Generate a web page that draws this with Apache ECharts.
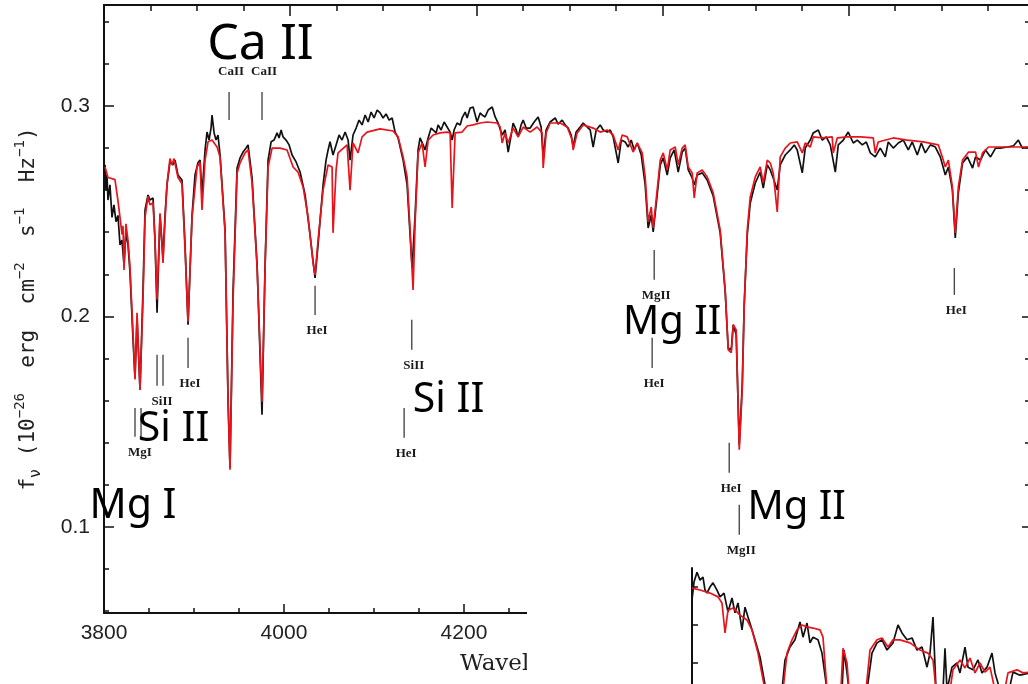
<!DOCTYPE html>
<html>
<head>
<meta charset="utf-8">
<script src="https://cdn.jsdelivr.net/npm/echarts@6/dist/echarts.min.js"></script>
<style>
html,body{margin:0;padding:0;background:#fff}
#chart{width:1028px;height:684px}
</style>
</head>
<body>
<div id="chart"></div>
<script>
// Observed spectrum: [wavelength (Å), f_nu (1e-26 erg cm^-2 s^-1 Hz^-1)]
const observed = [
[3801.1,0.2720],[3802.1,0.2601],[3803.2,0.2672],[3804.3,0.2553],[3806.4,0.2625],[3808.6,0.2470],[3810.7,0.2530],[3812.9,0.2450],[3815.0,0.2480],[3817.2,0.2340],[3819.3,0.2363],[3821.5,0.2245],[3823.6,0.2400],[3825.8,0.2340],[3827.9,0.2211],[3831.2,0.1888],[3833.3,0.1708],[3835.5,0.1993],[3838.7,0.1651],[3841.9,0.2126],[3844.1,0.2506],[3847.3,0.2577],[3849.4,0.2553],[3852.7,0.2563],[3854.8,0.2363],[3857.0,0.2017],[3860.2,0.2482],[3863.4,0.2278],[3865.6,0.2482],[3867.7,0.2625],[3870.9,0.2734],[3874.2,0.2720],[3876.3,0.2743],[3879.5,0.2672],[3883.8,0.2648],[3887.1,0.2340],[3890.3,0.1960],[3894.6,0.2480],[3897.8,0.2672],[3901.0,0.2730],[3903.2,0.2743],[3905.3,0.2577],[3908.6,0.2791],[3910.7,0.2876],[3912.9,0.2838],[3915.0,0.2895],[3916.1,0.2957],[3918.3,0.2872],[3920.4,0.2838],[3922.5,0.2862],[3924.7,0.2767],[3930.1,0.2411],[3933.3,0.1600],[3935.4,0.1280],[3938.7,0.2126],[3943.0,0.2705],[3946.2,0.2753],[3949.4,0.2781],[3952.7,0.2800],[3954.8,0.2815],[3959.1,0.2658],[3964.5,0.2245],[3969.8,0.1532],[3973.1,0.2245],[3976.3,0.2743],[3979.6,0.2830],[3982.7,0.2838],[3986.0,0.2872],[3988.1,0.2848],[3990.3,0.2886],[3992.4,0.2853],[3995.6,0.2838],[3998.9,0.2815],[4002.1,0.2767],[4006.4,0.2734],[4010.7,0.2686],[4016.1,0.2577],[4021.4,0.2387],[4024.7,0.2259],[4026.8,0.2183],[4030.0,0.2340],[4035.4,0.2625],[4038.6,0.2743],[4040.8,0.2791],[4042.9,0.2830],[4046.1,0.2767],[4049.4,0.2815],[4052.6,0.2862],[4055.8,0.2838],[4059.1,0.2876],[4062.3,0.2838],[4064.4,0.2743],[4067.6,0.2862],[4070.9,0.2895],[4074.1,0.2933],[4077.3,0.2910],[4080.6,0.2957],[4083.8,0.2924],[4087.0,0.2971],[4090.2,0.2943],[4093.5,0.2981],[4096.7,0.2967],[4099.9,0.2943],[4103.1,0.2962],[4106.4,0.2933],[4109.6,0.2943],[4112.8,0.2876],[4116.0,0.2848],[4121.4,0.2743],[4125.7,0.2625],[4128.9,0.2387],[4131.1,0.2230],[4134.3,0.2482],[4137.5,0.2791],[4139.6,0.2848],[4142.9,0.2815],[4145.0,0.2791],[4148.3,0.2848],[4151.5,0.2895],[4153.6,0.2900],[4156.9,0.2872],[4159.0,0.2910],[4162.2,0.2886],[4165.5,0.2924],[4168.7,0.2900],[4171.9,0.2876],[4174.1,0.2838],[4176.2,0.2886],[4179.4,0.2919],[4182.7,0.2910],[4184.8,0.2943],[4188.1,0.2971],[4190.2,0.2943],[4193.4,0.2990],[4196.6,0.2995],[4200.9,0.2924],[4204.2,0.2967],[4206.3,0.2957],[4209.5,0.2948],[4212.8,0.2981],[4217.1,0.2995],[4220.3,0.2948],[4223.5,0.2919],[4227.8,0.2862],[4231.0,0.2886],[4234.3,0.2781],[4237.5,0.2862],[4239.6,0.2919],[4242.9,0.2886],[4245.0,0.2853],[4248.2,0.2910],[4250.4,0.2933],[4253.6,0.2895],[4257.9,0.2895],[4262.2,0.2924],[4266.5,0.2948],[4269.7,0.2900],[4271.9,0.2758],[4275.1,0.2886],[4279.4,0.2924],[4284.8,0.2943],[4288.0,0.2914],[4292.3,0.2933],[4295.5,0.2910],[4298.8,0.2895],[4302.0,0.2862],[4304.1,0.2805],[4307.3,0.2876],[4311.6,0.2900],[4314.9,0.2919],[4319.2,0.2900],[4322.4,0.2886],[4325.6,0.2805],[4328.9,0.2886],[4333.2,0.2910],[4336.4,0.2886],[4340.7,0.2876],[4344.0,0.2886],[4347.1,0.2853],[4352.5,0.2729],[4355.8,0.2838],[4360.0,0.2829],[4363.2,0.2805],[4366.5,0.2838],[4369.7,0.2791],[4373.0,0.2824],[4377.3,0.2767],[4381.5,0.2625],[4384.7,0.2420],[4388.0,0.2482],[4390.1,0.2401],[4394.4,0.2577],[4397.7,0.2720],[4400.9,0.2753],[4405.2,0.2672],[4408.4,0.2753],[4412.7,0.2791],[4417.0,0.2686],[4421.3,0.2781],[4424.5,0.2800],[4427.8,0.2696],[4432.0,0.2658],[4434.2,0.2625],[4437.4,0.2672],[4442.8,0.2682],[4448.1,0.2648],[4454.6,0.2572],[4462.1,0.2397],[4467.5,0.2116],[4470.7,0.1850],[4474.0,0.1841],[4476.1,0.1960],[4479.3,0.1912],[4482.6,0.1390],[4485.8,0.1675],[4487.9,0.2055],[4491.2,0.2387],[4494.4,0.2539],[4499.8,0.2634],[4505.1,0.2686],[4508.4,0.2610],[4512.7,0.2720],[4515.9,0.2696],[4519.1,0.2658],[4523.4,0.2601],[4526.6,0.2720],[4532.0,0.2767],[4537.4,0.2791],[4541.7,0.2815],[4544.9,0.2791],[4550.3,0.2682],[4553.5,0.2800],[4558.9,0.2838],[4562.1,0.2872],[4567.5,0.2886],[4571.8,0.2838],[4576.1,0.2853],[4580.4,0.2815],[4585.8,0.2686],[4589.0,0.2815],[4594.4,0.2838],[4599.7,0.2876],[4605.1,0.2824],[4609.4,0.2838],[4614.8,0.2815],[4619.1,0.2829],[4623.4,0.2777],[4628.7,0.2758],[4634.1,0.2800],[4639.5,0.2758],[4642.7,0.2829],[4648.1,0.2800],[4653.5,0.2824],[4658.9,0.2838],[4664.2,0.2791],[4668.5,0.2829],[4673.9,0.2767],[4678.2,0.2824],[4682.5,0.2777],[4687.9,0.2815],[4693.3,0.2805],[4698.6,0.2758],[4704.0,0.2672],[4707.3,0.2710],[4711.6,0.2601],[4714.7,0.2373],[4718.0,0.2587],[4722.5,0.2729],[4727.8,0.2758],[4733.3,0.2705],[4736.5,0.2758],[4741.8,0.2743],[4747.2,0.2791],[4752.6,0.2758],[4758.0,0.2800],[4763.1,0.2800],[4770.8,0.2805],[4777.1,0.2810],[4782.5,0.2838],[4786.8,0.2800],[4795.0,0.2805]
];

// Model spectrum: [wavelength (Å), f_nu]
const model = [
[3801.1,0.2710],[3804.3,0.2660],[3811.8,0.2650],[3815.0,0.2550],[3818.3,0.2430],[3819.3,0.2390],[3820.4,0.2430],[3821.5,0.2220],[3823.6,0.2440],[3825.8,0.2360],[3827.9,0.2235],[3831.2,0.1920],[3833.3,0.1700],[3835.5,0.2017],[3838.7,0.1650],[3841.9,0.2080],[3844.1,0.2470],[3847.3,0.2570],[3849.4,0.2530],[3852.7,0.2540],[3854.8,0.2360],[3857.0,0.2080],[3860.2,0.2490],[3863.4,0.2254],[3865.6,0.2458],[3867.7,0.2630],[3870.9,0.2750],[3873.1,0.2720],[3875.2,0.2750],[3879.5,0.2660],[3883.8,0.2630],[3887.1,0.2316],[3890.3,0.1974],[3894.6,0.2470],[3900.0,0.2710],[3903.2,0.2734],[3905.3,0.2506],[3908.6,0.2743],[3911.8,0.2830],[3916.1,0.2838],[3921.5,0.2805],[3924.7,0.2758],[3930.1,0.2397],[3933.3,0.1600],[3935.4,0.1271],[3938.7,0.2078],[3943.0,0.2680],[3946.2,0.2730],[3951.6,0.2777],[3954.8,0.2791],[3959.1,0.2634],[3964.5,0.2235],[3969.8,0.1594],[3973.1,0.2235],[3976.3,0.2710],[3980.6,0.2800],[3989.2,0.2800],[3996.7,0.2791],[4003.2,0.2710],[4008.5,0.2686],[4013.9,0.2615],[4019.3,0.2473],[4024.7,0.2254],[4026.8,0.2197],[4030.0,0.2363],[4035.4,0.2600],[4040.8,0.2720],[4045.1,0.2710],[4046.1,0.2397],[4049.4,0.2696],[4051.5,0.2777],[4061.2,0.2815],[4064.4,0.2600],[4067.6,0.2824],[4073.0,0.2777],[4077.3,0.2853],[4082.7,0.2876],[4096.7,0.2891],[4110.6,0.2881],[4116.0,0.2853],[4121.4,0.2758],[4125.7,0.2663],[4128.9,0.2411],[4132.1,0.2126],[4134.3,0.2444],[4137.5,0.2777],[4141.8,0.2824],[4145.0,0.2710],[4148.3,0.2838],[4153.6,0.2862],[4161.2,0.2872],[4168.7,0.2876],[4171.9,0.2872],[4174.1,0.2515],[4177.3,0.2872],[4184.8,0.2876],[4190.2,0.2905],[4196.6,0.2910],[4204.2,0.2919],[4211.7,0.2924],[4222.4,0.2919],[4225.7,0.2900],[4227.8,0.2824],[4231.0,0.2872],[4234.3,0.2824],[4239.6,0.2895],[4245.0,0.2853],[4250.4,0.2900],[4257.9,0.2876],[4265.4,0.2900],[4270.8,0.2872],[4271.9,0.2705],[4275.1,0.2872],[4279.4,0.2919],[4290.2,0.2919],[4297.7,0.2900],[4303.1,0.2838],[4304.1,0.2791],[4308.4,0.2872],[4314.9,0.2910],[4325.6,0.2895],[4333.2,0.2876],[4340.7,0.2886],[4347.1,0.2862],[4352.5,0.2791],[4356.8,0.2862],[4362.2,0.2853],[4368.6,0.2781],[4373.0,0.2824],[4378.3,0.2777],[4381.5,0.2663],[4384.7,0.2449],[4388.0,0.2520],[4390.1,0.2420],[4394.4,0.2600],[4397.7,0.2743],[4400.9,0.2777],[4405.2,0.2696],[4408.4,0.2791],[4413.8,0.2805],[4417.0,0.2720],[4421.3,0.2800],[4424.5,0.2815],[4427.8,0.2710],[4432.0,0.2682],[4434.2,0.2563],[4437.4,0.2682],[4442.8,0.2696],[4448.1,0.2663],[4454.6,0.2587],[4462.1,0.2411],[4467.5,0.2126],[4470.7,0.1841],[4474.0,0.1827],[4476.1,0.1960],[4479.3,0.1936],[4482.6,0.1366],[4485.8,0.1651],[4487.9,0.2045],[4491.2,0.2411],[4494.4,0.2568],[4499.8,0.2663],[4505.1,0.2710],[4508.4,0.2634],[4512.7,0.2743],[4515.9,0.2729],[4519.1,0.2682],[4523.4,0.2496],[4526.6,0.2758],[4532.0,0.2800],[4537.4,0.2824],[4544.9,0.2829],[4550.3,0.2777],[4553.5,0.2824],[4558.9,0.2805],[4562.1,0.2853],[4571.8,0.2848],[4582.5,0.2853],[4583.6,0.2777],[4587.9,0.2848],[4598.6,0.2853],[4612.6,0.2853],[4626.6,0.2848],[4628.7,0.2777],[4631.9,0.2829],[4648.1,0.2848],[4663.1,0.2838],[4680.3,0.2829],[4696.5,0.2815],[4700.8,0.2758],[4704.0,0.2710],[4707.3,0.2743],[4711.6,0.2615],[4714.7,0.2397],[4718.0,0.2615],[4722.5,0.2743],[4729.0,0.2781],[4736.5,0.2781],[4739.7,0.2710],[4744.0,0.2777],[4750.4,0.2805],[4770.8,0.2805],[4795.0,0.2805]
];

// Line identifications: label, wavelength(s) of the tick bars, bar top/bottom flux, label above the bar?
const idLabels = ['CaII', 'CaII', 'MgI', 'SiII', 'HeI', 'HeI', 'SiII', 'HeI', 'MgII', 'HeI', 'HeI', 'MgII', 'HeI'];
const idWaves = [[3934.4], [3969.8], [3833.3, 3839.8], [3857.0, 3863.4], [3890.3], [4026.8], [4130.7], [4122.5], [4391.2], [4389.0], [4471.8], [4482.6], [4713.7]];
const idBarTop = [0.3067, 0.3067, 0.1565, 0.1817, 0.1898, 0.2145, 0.1984, 0.1565, 0.2316, 0.1898, 0.1399, 0.1105, 0.2230];
const idBarBottom = [0.2933, 0.2933, 0.1428, 0.1670, 0.1755, 0.2007, 0.1841, 0.1423, 0.2174, 0.1755, 0.1257, 0.0962, 0.2102];
const idAbove = [true, true, false, false, false, false, false, false, false, false, false, false, false];

// Large ion annotations
const noteText = ['Ca II', 'Si II', 'Mg I', 'Si II', 'Mg II', 'Mg II'];
const noteWave = [3968.2, 3874.7, 3831.2, 4170.3, 4410.5, 4544.3];
const noteFlux = [0.3290, 0.1461, 0.1095, 0.1603, 0.1969, 0.1090];
const noteSize = [50, 41, 41, 41, 40, 40];

// Axis ticks
const xMajorTicks = 200;
const yLabelTicks = [0.1, 0.2, 0.3];
const yMinorTicks = [0.06, 0.08, 0.12, 0.14, 0.16, 0.18, 0.22, 0.24, 0.26, 0.28, 0.32, 0.34];

// Lower panel (partly visible): [position, relative flux]
const lowerObserved = [
[0,0.916],[0.6,0.963],[1.5,0.989],[2.4,0.968],[3.3,0.976],[3.9,0.942],[4.5,0.934],[5.4,0.950],[6.3,0.961],[7.5,0.942],[8.4,0.924],[9.6,0.934],[10.8,0.884],[12.0,0.921],[12.9,0.882],[13.8,0.908],[15.0,0.837],[15.9,0.897],[16.8,0.871],[18.3,0.829],[20.4,0.766],[22.2,0.679],[24.6,0.640],[27.0,0.679],[27.9,0.758],[29.4,0.792],[30.9,0.811],[32.4,0.858],[33.3,0.818],[34.5,0.855],[35.4,0.803],[36.3,0.818],[37.8,0.811],[39.0,0.776],[40.5,0.679],[42.9,0.653],[45.0,0.679],[45.6,0.784],[46.5,0.724],[47.1,0.679],[49.8,0.640],[52.5,0.679],[54.0,0.776],[55.5,0.803],[57.0,0.811],[58.5,0.784],[60.3,0.803],[61.8,0.850],[63.0,0.829],[64.5,0.811],[66.0,0.816],[67.5,0.784],[69.0,0.792],[70.5,0.739],[71.4,0.776],[72.3,0.871],[73.2,0.679],[74.4,0.653],[75.3,0.679],[75.9,0.789],[76.5,0.679],[78.0,0.739],[79.5,0.750],[80.4,0.724],[81.9,0.792],[82.8,0.739],[84.3,0.732],[85.8,0.758],[87.0,0.724],[88.5,0.739],[90.0,0.776],[90.9,0.724],[92.4,0.679],[94.8,0.666],[96.3,0.726],[98.4,0.718],[101.4,0.724]
];
const lowerModel = [
[0,0.947],[2.4,0.942],[5.4,0.934],[7.8,0.924],[9.0,0.908],[9.9,0.829],[10.8,0.889],[12.3,0.895],[14.4,0.876],[16.5,0.863],[18.0,0.837],[19.8,0.776],[21.9,0.679],[24.6,0.640],[27.3,0.679],[28.5,0.776],[30.0,0.811],[31.5,0.837],[33.0,0.850],[34.5,0.845],[36.3,0.842],[38.4,0.837],[39.3,0.818],[40.5,0.679],[42.9,0.653],[44.7,0.684],[45.3,0.789],[46.5,0.750],[47.1,0.679],[49.8,0.640],[52.2,0.679],[53.4,0.784],[55.5,0.811],[57.0,0.816],[58.8,0.792],[60.3,0.811],[62.4,0.811],[65.4,0.803],[68.4,0.784],[70.8,0.776],[72.3,0.758],[73.2,0.679],[75.3,0.653],[77.4,0.679],[78.3,0.732],[80.4,0.758],[81.9,0.737],[83.4,0.763],[84.9,0.724],[86.4,0.750],[87.9,0.726],[89.4,0.739],[90.9,0.679],[92.4,0.666],[93.9,0.684],[94.8,0.724],[97.5,0.732],[99.3,0.724],[101.4,0.726]
];
const lowerTicks = [0.65, 0.75, 0.85, 0.95];

const chart = echarts.init(document.getElementById('chart'), null, { renderer: 'canvas' });

const axisBlack = { show: true, lineStyle: { color: '#111', width: 2 } };
const Y_MIN = 0.059, Y_MAX = 0.348;

function idBars(params, api) {
  const i = params.dataIndex;
  const waves = idWaves[i];
  const children = [];
  const xs = [];
  waves.forEach(function (w) {
    const p1 = api.coord([w, idBarTop[i]]);
    const p2 = api.coord([w, idBarBottom[i]]);
    xs.push(p1[0]);
    children.push({
      type: 'line',
      shape: { x1: p1[0], y1: p1[1], x2: p2[0], y2: p2[1] },
      style: { stroke: '#4a4a4a', lineWidth: 1.4 }
    });
  });
  const cx = (xs[0] + xs[xs.length - 1]) / 2 + 2;
  const ty = idAbove[i]
    ? api.coord([waves[0], idBarTop[i]])[1] - 20
    : api.coord([waves[0], idBarBottom[i]])[1] + 16;
  children.push({
    type: 'text',
    style: {
      x: cx, y: ty, text: idLabels[i],
      font: 'bold 13px "Liberation Serif"',
      fill: '#1a1a1a', align: 'center', verticalAlign: 'middle'
    }
  });
  return { type: 'group', children: children };
}

const option = {
  animation: false,
  backgroundColor: '#fff',
  textStyle: { fontFamily: 'Liberation Sans' },
  grid: [
    { left: 104, top: 5, width: 926, height: 608, containLabel: false, outerBoundsMode: 'none' },
    { left: 692, top: 568, width: 340, height: 152, containLabel: false, outerBoundsMode: 'none' }
  ],
  xAxis: [
    { // labelled wavelength axis along the bottom
      type: 'value', gridIndex: 0, position: 'bottom',
      min: 3800, max: 4829, interval: xMajorTicks,
      axisLine: axisBlack,
      axisTick: { inside: true, length: 9, lineStyle: { color: '#111', width: 1.5 } },
      minorTick: { show: true, splitNumber: 4, length: 5, lineStyle: { color: '#111', width: 1.5 } },
      axisLabel: {
        fontSize: 21, color: '#222', margin: 10, fontFamily: 'Liberation Sans',
        formatter: function (v) { return String(v); }
      },
      splitLine: { show: false }
    },
    { // wavelength axis carrying the spectra, ticks along the top frame
      type: 'value', gridIndex: 0, position: 'top',
      min: 3800, max: 4795, interval: xMajorTicks,
      axisLine: axisBlack,
      axisTick: { inside: true, length: 11, lineStyle: { color: '#111', width: 1.5 } },
      minorTick: { show: true, splitNumber: 4, length: 6, lineStyle: { color: '#111', width: 1.5 } },
      axisLabel: { show: false },
      splitLine: { show: false }
    },
    {
      type: 'value', gridIndex: 1, min: 0, max: 102, show: false
    }
  ],
  yAxis: [
    {
      type: 'value', gridIndex: 0, position: 'left', min: Y_MIN, max: Y_MAX,
      axisLine: axisBlack,
      axisTick: { inside: true, length: 10, customValues: yLabelTicks, lineStyle: { color: '#111', width: 1.5 } },
      axisLabel: {
        customValues: yLabelTicks, fontSize: 21, color: '#222', margin: 14,
        formatter: function (v) { return v.toFixed(1); }
      },
      splitLine: { show: false },
      name: '{t|f}{sub|ν}{t| (10}{sup|−26}{t|  erg  cm}{sup|−2}{t|  s}{sup|−1}{t|  Hz}{sup|−1}{t|)}',
      nameLocation: 'middle', nameRotate: 90, nameGap: 60,
      nameTextStyle: {
        color: '#222',
        rich: {
          t: { fontFamily: 'DejaVu Sans Mono', fontSize: 21, color: '#222', lineHeight: 31, verticalAlign: 'middle' },
          sub: { fontFamily: 'DejaVu Sans Mono', fontSize: 15, color: '#222', lineHeight: 31, verticalAlign: 'bottom' },
          sup: { fontFamily: 'DejaVu Sans Mono', fontSize: 14, color: '#222', lineHeight: 31, verticalAlign: 'top' }
        }
      }
    },
    {
      type: 'value', gridIndex: 0, position: 'left', min: Y_MIN, max: Y_MAX,
      axisLine: { show: false },
      axisTick: { inside: true, length: 5, customValues: yMinorTicks, lineStyle: { color: '#111', width: 1.5 } },
      axisLabel: { show: false }, splitLine: { show: false }
    },
    {
      type: 'value', gridIndex: 0, position: 'right', min: Y_MIN, max: Y_MAX,
      axisLine: { show: false },
      axisTick: { inside: true, length: 8, customValues: yLabelTicks, lineStyle: { color: '#111', width: 1.5 } },
      axisLabel: { show: false }, splitLine: { show: false }
    },
    {
      type: 'value', gridIndex: 0, position: 'right', min: Y_MIN, max: Y_MAX,
      axisLine: { show: false },
      axisTick: { inside: true, length: 5, customValues: yMinorTicks, lineStyle: { color: '#111', width: 1.5 } },
      axisLabel: { show: false }, splitLine: { show: false }
    },
    {
      type: 'value', gridIndex: 1, position: 'left', min: 0.6, max: 1.0, z: 110,
      axisLine: { show: true, lineStyle: { color: '#111', width: 2 } },
      axisTick: { inside: true, length: 6, customValues: lowerTicks, lineStyle: { color: '#111', width: 1.5 } },
      axisLabel: { show: false }, splitLine: { show: false }
    }
  ],
  graphic: [
    {
      type: 'text', left: 460, top: 653, z: 5,
      style: { text: 'Wavelength (Å)', font: '23px "DejaVu Serif"', fill: '#222' }
    },
    {
      type: 'rect', z: 100,
      shape: { x: 527, y: 563, width: 501, height: 121 },
      style: { fill: '#fff' }
    }
  ],
  series: [
    {
      name: 'observed', type: 'line', xAxisIndex: 1, yAxisIndex: 0,
      data: observed, showSymbol: false, symbol: 'none',
      lineStyle: { color: '#111', width: 1.7 }, z: 3
    },
    {
      name: 'model', type: 'line', xAxisIndex: 1, yAxisIndex: 0,
      data: model, showSymbol: false, symbol: 'none',
      lineStyle: { color: '#e8141c', width: 1.7 }, z: 4
    },
    {
      name: 'line ids', type: 'custom', xAxisIndex: 1, yAxisIndex: 0,
      data: idWaves.map(function (w, i) { return [w[0], idBarTop[i]]; }),
      renderItem: idBars, clip: false, silent: true, z: 5
    },
    {
      name: 'ions', type: 'scatter', xAxisIndex: 1, yAxisIndex: 0,
      symbolSize: 0, silent: true, z: 6,
      itemStyle: { opacity: 1 },
      data: noteText.map(function (t, i) {
        return {
          value: [noteWave[i], noteFlux[i]], name: t,
          label: { fontSize: noteSize[i] }
        };
      }),
      label: {
        show: true, position: 'inside', formatter: '{b}', opacity: 1,
        fontFamily: 'Noto Sans', color: '#000', align: 'center', verticalAlign: 'middle'
      }
    },
    {
      name: 'lower observed', type: 'line', xAxisIndex: 2, yAxisIndex: 4,
      data: lowerObserved, showSymbol: false, symbol: 'none',
      lineStyle: { color: '#111', width: 1.7 }, z: 120
    },
    {
      name: 'lower model', type: 'line', xAxisIndex: 2, yAxisIndex: 4,
      data: lowerModel, showSymbol: false, symbol: 'none',
      lineStyle: { color: '#e8141c', width: 1.7 }, z: 121
    }
  ]
};

chart.setOption(option);
</script>
</body>
</html>
